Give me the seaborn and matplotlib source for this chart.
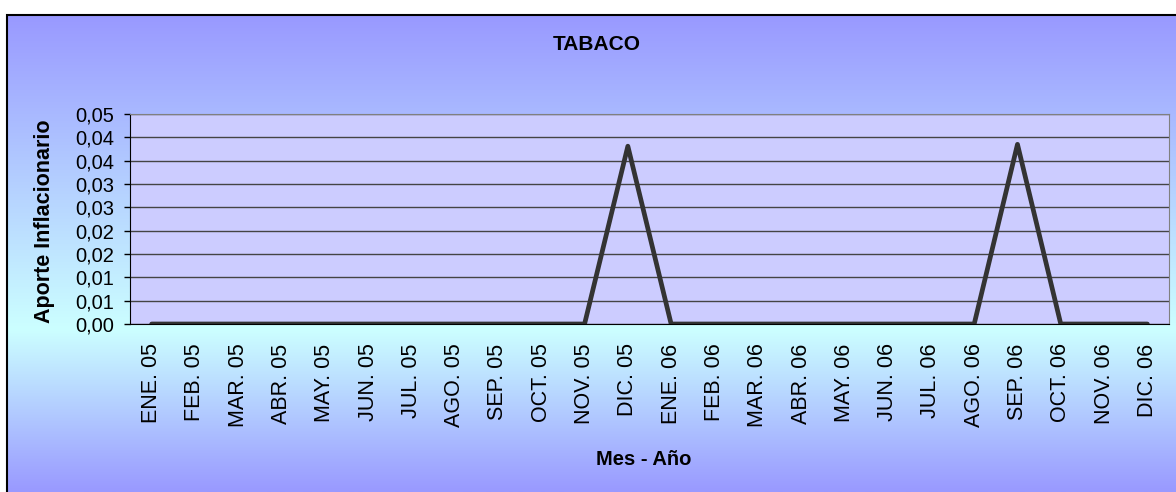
import numpy as np
import pandas as pd
import matplotlib.pyplot as plt
import seaborn as sns
from matplotlib.colors import LinearSegmentedColormap
from matplotlib.patches import Rectangle

months = ["ENE. 05", "FEB. 05", "MAR. 05", "ABR. 05", "MAY. 05", "JUN. 05",
          "JUL. 05", "AGO. 05", "SEP. 05", "OCT. 05", "NOV. 05", "DIC. 05",
          "ENE. 06", "FEB. 06", "MAR. 06", "ABR. 06", "MAY. 06", "JUN. 06",
          "JUL. 06", "AGO. 06", "SEP. 06", "OCT. 06", "NOV. 06", "DIC. 06"]
aporte = [0, 0, 0, 0, 0, 0, 0, 0, 0, 0, 0, 0.0381,
          0, 0, 0, 0, 0, 0, 0, 0.0, 0.0385, 0, 0, 0]
y_ticks = [0, 0.005, 0.01, 0.015, 0.02, 0.025, 0.03, 0.035, 0.04, 0.045]
y_labels = ["0,00", "0,01", "0,01", "0,02", "0,02", "0,03", "0,03", "0,04", "0,04", "0,05"]

df = pd.DataFrame({"mes": months, "aporte": aporte, "pos": np.arange(len(months))})

sns.set_style("white")
plt.rcParams["font.family"] = ["Liberation Sans", "DejaVu Sans"]
plt.rcParams.update({"text.color": "black", "axes.labelcolor": "black",
                     "xtick.color": "black", "ytick.color": "black"})

W, H = 1176, 492
fig = plt.figure(figsize=(W / 100, H / 100), dpi=100)
fig.patch.set_facecolor("white")

# gradient background of the chart area
bg = fig.add_axes([7 / W, 0, 1 - 7 / W, 1 - 15 / H], zorder=0)
cmap = LinearSegmentedColormap.from_list(
    "bg", [(0, "#9999ff"), (0.66, "#ccffff"), (1, "#9999ff")])
grad = np.linspace(0, 1, 256).reshape(-1, 1)
bg.imshow(grad, aspect="auto", cmap=cmap, extent=[0, 1, 0, 1])
bg.set_axis_off()
fig.patches.append(Rectangle((7 / W, -0.01), 1.02, 1 - 15 / H + 0.01,
                             transform=fig.transFigure, fill=False,
                             edgecolor="black", linewidth=1.5, zorder=5))

ax = fig.add_axes([130 / W, (H - 324) / H, (1169 - 130) / W, (324 - 114) / H], zorder=2)
ax.set_facecolor("#ccccff")

sns.lineplot(data=df, x="pos", y="aporte", ax=ax, color="#333333", linewidth=3.4)

ax.set_xlim(-0.5, len(months) - 0.5)
ax.set_ylim(0, 0.045)
ax.set_yticks(y_ticks)
ax.set_yticklabels(y_labels, fontsize=14.5)
ax.set_xticks(np.arange(len(months)))
ax.set_xticklabels(months, rotation=90, fontsize=15.5)
ax.tick_params(axis="x", length=0, pad=14)
ax.set_xticks(np.arange(-0.5, len(months)), minor=True)
ax.tick_params(axis="x", which="minor", length=5, width=1, color="black", direction="out")
ax.tick_params(axis="y", length=4.5, width=1, color="black", direction="out", left=True, pad=7)
ax.grid(axis="y", color="#444444", linewidth=1)
for s in ax.spines.values():
    s.set_color("#808080")
ax.spines["bottom"].set_color("black")
ax.spines["left"].set_color("black")

ax.set_xlabel("Mes - Año", fontsize=14.5, fontweight="bold")
ax.xaxis.set_label_coords(0.494, -0.6)
ax.set_ylabel("Aporte Inflacionario", fontsize=15.5, fontweight="bold")
ax.yaxis.set_label_coords(-0.072, 0.49)
fig.text(597 / W, 1 - 44 / H, "TABACO", ha="center", va="center",
         fontsize=15, fontweight="bold")

fig.savefig("out.png", dpi=100)
